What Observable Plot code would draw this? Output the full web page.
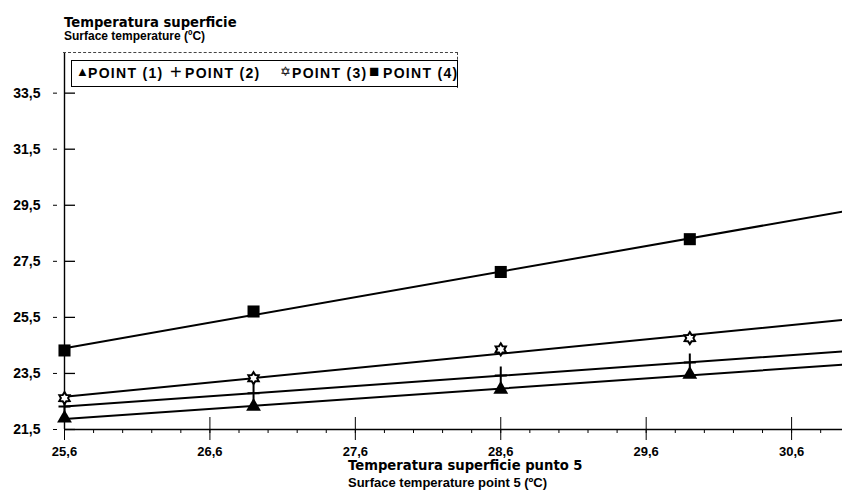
<!DOCTYPE html>
<html><head><meta charset="utf-8">
<script src="https://cdn.jsdelivr.net/npm/d3@7"></script>
<script src="https://cdn.jsdelivr.net/npm/@observablehq/plot@0.6"></script>
<style>
body{margin:0;background:#fff;}
#wrap{position:relative;width:842px;height:500px;color:#000;font-family:"Liberation Sans",Arial,sans-serif;}
#wrap svg{position:absolute;left:0;top:0;}
.t1{position:absolute;font-family:"DejaVu Sans",sans-serif;font-weight:bold;font-size:13.2px;white-space:nowrap;line-height:1;}
.t2{position:absolute;font-family:"Liberation Sans",Arial,sans-serif;font-weight:bold;font-size:12px;white-space:nowrap;line-height:1;}
#outer{position:absolute;left:63px;top:52px;width:394px;height:35px;border-top:1px dashed #444;border-right:1px dashed #444;}
#legend{position:absolute;left:71px;top:60px;width:385px;height:25px;border:1.3px solid #000;background:#fff;}
.li{position:absolute;top:5px;font-weight:bold;font-size:14px;letter-spacing:1.3px;white-space:nowrap;line-height:1;}
.sym{position:absolute;top:4px;font-size:13px;line-height:1;}
</style></head><body><div id="wrap"></div>
<script>
// ---- data ----
const series = ["POINT (1)", "POINT (2)", "POINT (3)", "POINT (4)"];
const xValues = [25.6, 26.9, 28.6, 29.9];
const point1 = [21.90, 22.32, 22.93, 23.46];
const point2 = [22.32, 22.79, 23.43, 23.89];
const point3 = [22.62, 23.33, 24.36, 24.76];
const point4 = [24.32, 25.71, 27.12, 28.29];
const xTicks = [25.6, 26.6, 27.6, 28.6, 29.6, 30.6];
const yTicks = [21.5, 23.5, 25.5, 27.5, 29.5, 31.5, 33.5];
const xDomain = [25.6, 30.95];
const yDomain = [21.5, 34.95];

const allY = [point1, point2, point3, point4];
const rows = [];
allY.forEach((ys, i) => ys.forEach((y, j) => rows.push({series: series[i], x: xValues[j], y})));

// least-squares fit line across the x domain
function fit(ys, name) {
  const mx = d3.mean(xValues), my = d3.mean(ys);
  const sxy = d3.sum(xValues, (x, i) => (x - mx) * (ys[i] - my));
  const sxx = d3.sum(xValues, x => (x - mx) ** 2);
  const b = sxy / sxx, a = my - b * mx;
  return xDomain.map(x => ({series: name, x, y: a + b * x}));
}
const fitRows = allY.flatMap((ys, i) => fit(ys, series[i]));

const fmt = d => d.toFixed(1).replace(".", ",");
const minorTicks = d3.range(0, 27).map(i => 25.6 + i * 0.2).filter(v => v <= 30.95);

const plusSym = {draw(ctx, size) {
  const r = Math.sqrt(size / Math.PI);
  ctx.moveTo(0, -1.5 * r); ctx.lineTo(0, 1.5 * r);
  ctx.moveTo(-r, 0); ctx.lineTo(r, 0);
}};
const starSym = {draw(ctx, size) {
  const r = Math.sqrt(size / Math.PI);
  for (let k = 0; k < 12; k++) {
    const rr = k % 2 === 0 ? r : r * 0.6;
    const a = k * Math.PI / 6 - Math.PI / 2;
    const px = rr * Math.cos(a), py = rr * Math.sin(a);
    if (k === 0) ctx.moveTo(px, py); else ctx.lineTo(px, py);
  }
  ctx.closePath();
}};

const plot = Plot.plot({
  width: 842, height: 500,
  marginLeft: 64, marginRight: 0, marginTop: 52, marginBottom: 71,
  x: {domain: xDomain},
  y: {domain: yDomain},
  style: {fontFamily: "'Liberation Sans', Arial, sans-serif", fontWeight: "bold", color: "#000", background: "#fff"},
  marks: [
    Plot.axisX(minorTicks, {tickSize: 4, fill: "none", label: null}),
    Plot.axisX(xTicks, {tickSize: 11, tickPadding: 6, tickFormat: fmt, label: null, fontSize: 13}),
    Plot.axisX(xTicks, {tickSize: -12, fill: "none", label: null}),
    Plot.axisY(yTicks, {tickSize: 0, tickPadding: 24, tickFormat: fmt, label: null, fontSize: 14}),
    Plot.axisY(yTicks, {tickSize: -11, fill: "none", label: null, strokeWidth: 1.3}),
    Plot.axisY(yTicks, {tickSize: 11, fill: "none", label: null, strokeDasharray: "0 7 4 20"}),
    Plot.ruleY([21.5], {strokeWidth: 1.6}),
    Plot.ruleX([25.6], {strokeWidth: 1.4}),
    Plot.line(fitRows, {x: "x", y: "y", z: "series", stroke: "#000", strokeWidth: 2, clip: true}),
    Plot.dot(rows.filter(d => d.series === series[0]), {x: "x", y: "y", symbol: "triangle", r: 5.5, fill: "#000", stroke: "none"}),
    Plot.dot(rows.filter(d => d.series === series[1]), {x: "x", y: "y", symbol: plusSym, r: 6, fill: "none", stroke: "#000", strokeWidth: 2}),
    Plot.dot(rows.filter(d => d.series === series[2]), {x: "x", y: "y", symbol: starSym, r: 6, fill: "#fff", stroke: "#000", strokeWidth: 2}),
    Plot.dot(rows.filter(d => d.series === series[3]), {x: "x", y: "y", symbol: "square", r: 6.8, fill: "#000", stroke: "none"})
  ]
});

const wrap = document.getElementById("wrap");
wrap.appendChild(plot);

function addDiv(cls, text, left, top, id) {
  const d = document.createElement("div");
  if (cls) d.className = cls;
  if (id) d.id = id;
  d.textContent = text;
  if (left != null) d.style.left = left + "px";
  if (top != null) d.style.top = top + "px";
  return d;
}
wrap.appendChild(addDiv("t1", "Temperatura superficie", 64, 16));
wrap.appendChild(addDiv("t2", "Surface temperature  (ºC)", 64, 30));
wrap.appendChild(addDiv("t1", "Temperatura superficie punto 5", 348, 459));
const bt2 = addDiv("t2", "Surface temperature point 5 (ºC)", 348, 476);
bt2.style.fontSize = "13px";
wrap.appendChild(bt2);

wrap.appendChild(addDiv(null, "", null, null, "outer"));
const legend = addDiv(null, "", null, null, "legend");
const symbols = ["▲", "+", "✡", "■"];
const symLeft = [4, 98, 208, 297];
const txtLeft = [16, 113, 220, 311];
series.forEach((s, i) => {
  const sy = addDiv("sym", symbols[i], symLeft[i], i === 1 ? 1 : (i === 3 ? 2 : 4));
  if (i === 1) { sy.style.fontSize = "20px"; sy.style.fontWeight = "normal"; }
  if (i === 3) { sy.style.fontSize = "17px"; }
  legend.appendChild(sy);
  legend.appendChild(addDiv("li", s, txtLeft[i], 5));
});
wrap.appendChild(legend);
</script>
</body></html>
